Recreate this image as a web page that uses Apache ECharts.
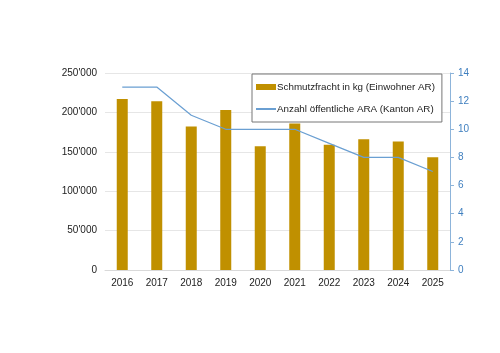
<!DOCTYPE html>
<html>
<head>
<meta charset="utf-8">
<script src="https://cdn.jsdelivr.net/npm/echarts@6/dist/echarts.min.js"></script>
<style>
  html, body { margin: 0; padding: 0; background: #fff; }
  #chart { width: 500px; height: 353px; }
</style>
</head>
<body>
<div id="chart"></div>
<script>
const years = ['2016', '2017', '2018', '2019', '2020', '2021', '2022', '2023', '2024', '2025'];
const schmutzfracht = [217000, 214000, 182000, 203000, 157000, 186000, 159000, 166000, 163000, 143000];
const anzahlAra = [13, 13, 11, 10, 10, 10, 9, 8, 8, 7];

const fmt = v => String(v).replace(/\B(?=(\d{3})+(?!\d))/g, "'");

const myChart = echarts.init(document.getElementById('chart'));
myChart.setOption({
  animation: false,
  textStyle: { fontFamily: 'Liberation Sans, Arial, sans-serif' },
  grid: { left: 105, right: 50, top: 73, bottom: 83 },
  legend: {
    orient: 'vertical',
    left: 252,
    top: 74,
    backgroundColor: '#fff',
    borderColor: '#777',
    borderWidth: 1,
    padding: [8, 7, 8, 3],
    itemGap: 12,
    itemWidth: 20,
    itemHeight: 6,
    textStyle: { fontSize: 9.8, color: '#222', padding: [0, 0, 0, -4] },
    data: [
      { name: 'Schmutzfracht in kg (Einwohner AR)', icon: 'rect' },
      { name: 'Anzahl öffentliche ARA (Kanton AR)', itemStyle: { opacity: 0 } }
    ]
  },
  xAxis: {
    type: 'category',
    data: years,
    axisLine: { lineStyle: { color: '#d9d9d9' } },
    axisTick: { show: false },
    axisLabel: { color: '#222', fontSize: 10, margin: 8 }
  },
  yAxis: [
    {
      type: 'value',
      min: 0,
      max: 250000,
      interval: 50000,
      axisLabel: { color: '#222', fontSize: 10, formatter: fmt, margin: 8 },
      splitLine: { lineStyle: { color: '#e6e6e6' } },
      axisLine: { show: false },
      axisTick: { show: false }
    },
    {
      type: 'value',
      min: 0,
      max: 14,
      interval: 2,
      position: 'right',
      axisLine: { show: true, lineStyle: { color: '#8db4da' } },
      axisTick: { show: true, length: 4, lineStyle: { color: '#8db4da' } },
      axisLabel: { color: '#3f7fbf', fontSize: 10, margin: 8 },
      splitLine: { show: false }
    }
  ],
  series: [
    {
      name: 'Schmutzfracht in kg (Einwohner AR)',
      type: 'bar',
      data: schmutzfracht,
      barWidth: 11,
      itemStyle: { color: '#c09000' }
    },
    {
      name: 'Anzahl öffentliche ARA (Kanton AR)',
      type: 'line',
      yAxisIndex: 1,
      data: anzahlAra,
      symbol: 'none',
      lineStyle: { color: '#6a9fd2', width: 1.2 },
      itemStyle: { color: '#6a9fd2' }
    }
  ]
});
window.addEventListener('resize', function () {
  myChart.resize();
});
</script>
</body>
</html>
